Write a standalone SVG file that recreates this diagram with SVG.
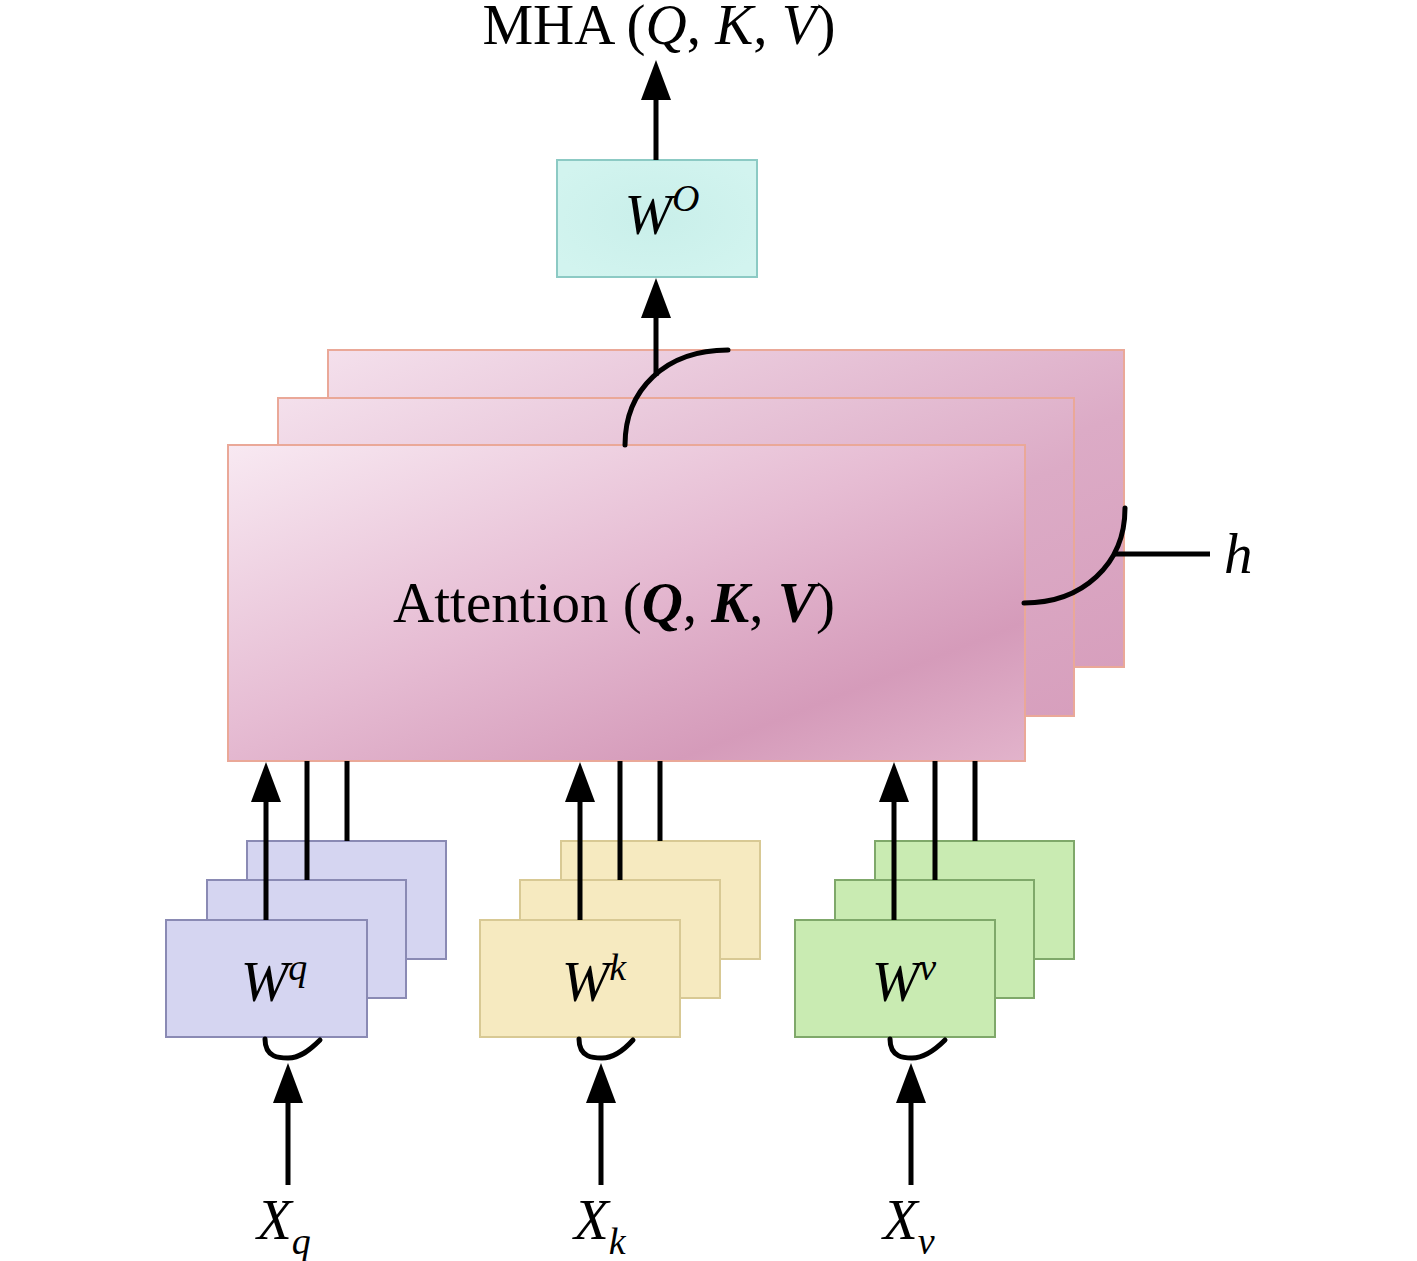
<svg xmlns="http://www.w3.org/2000/svg" width="1417" height="1261" viewBox="0 0 1417 1261">
<style>
text{font-family:"Liberation Serif","Times New Roman",serif;fill:#000}
.t{font-size:57px}
.i{font-style:italic}
.b{font-weight:bold;font-style:italic}
.ln{stroke:#000;stroke-width:5;fill:none}
.arc{stroke:#000;stroke-width:5;fill:none;stroke-linecap:round}
.pink{stroke:#eaa898;stroke-width:2}
.blue{fill:#d5d5f1;stroke:#8a8ab4;stroke-width:2}
.yel{fill:#f6eac0;stroke:#d8c994;stroke-width:2}
.grn{fill:#c9ebb2;stroke:#7fa86a;stroke-width:2}
</style>
<defs>
<marker id="ah" markerUnits="userSpaceOnUse" markerWidth="40" markerHeight="30" refX="0" refY="15" orient="auto" viewBox="0 0 40 30">
<path d="M0,0 L40,15 L0,30 z" fill="#000"/>
</marker>
<linearGradient id="pg" x1="0" y1="0" x2="1" y2="1">
<stop offset="0" stop-color="#f8e9f2"/>
<stop offset="0.45" stop-color="#e6bcd3"/>
<stop offset="0.78" stop-color="#d59bba"/>
<stop offset="1" stop-color="#e2b3cb"/>
</linearGradient>
<linearGradient id="pg2" x1="0" y1="0" x2="1" y2="1">
<stop offset="0" stop-color="#f4e0ec"/>
<stop offset="0.6" stop-color="#dcabc6"/>
<stop offset="1" stop-color="#d79fbd"/>
</linearGradient>
<radialGradient id="cg" cx="0.5" cy="0.5" r="0.6">
<stop offset="0" stop-color="#c9efea"/>
<stop offset="1" stop-color="#d2f4ef"/>
</radialGradient>
</defs>

<g id="title">
<text class="t" x="659" y="44" text-anchor="middle" font-size="58">MHA (<tspan class="i">Q</tspan>, <tspan class="i">K</tspan>, <tspan class="i">V</tspan>)</text>
</g>

<g id="wo">
<rect x="557" y="160" width="200" height="117" fill="url(#cg)" stroke="#8ccac4" stroke-width="2"/>
<text class="t" x="662" y="234" text-anchor="middle"><tspan class="i">W</tspan><tspan class="i" font-size="38" dy="-23">O</tspan></text>
</g>

<g id="attention">
<rect x="328" y="350" width="796" height="317" fill="url(#pg2)" class="pink"/>
<rect x="278" y="398" width="796" height="318" fill="url(#pg2)" class="pink"/>
<rect x="228" y="445" width="797" height="316" fill="url(#pg)" class="pink"/>
<text class="t" x="614" y="622" text-anchor="middle" font-size="58">Attention (<tspan class="b">Q</tspan>, <tspan class="b">K</tspan>, <tspan class="b">V</tspan>)</text>
</g>

<g id="h-label">
<text class="t i" x="1224" y="573">h</text>
</g>

<g id="wq">
<rect x="247" y="841" width="199" height="118" class="blue"/>
<rect x="207" y="880" width="199" height="118" class="blue" stroke="#5a5a8a"/>
<rect x="166" y="920" width="201" height="117" class="blue" stroke="#a9a9d0"/>
<text class="t" x="274" y="1001" text-anchor="middle"><tspan class="i">W</tspan><tspan class="i" font-size="38" dy="-21">q</tspan></text>
</g>

<g id="wk">
<rect x="561" y="841" width="199" height="118" class="yel"/>
<rect x="520" y="880" width="200" height="118" class="yel"/>
<rect x="480" y="920" width="200" height="117" class="yel"/>
<text class="t" x="594" y="1001" text-anchor="middle"><tspan class="i">W</tspan><tspan class="i" font-size="38" dy="-21">k</tspan></text>
</g>

<g id="wv">
<rect x="875" y="841" width="199" height="118" class="grn"/>
<rect x="835" y="880" width="199" height="118" class="grn" stroke="#3d5e28"/>
<rect x="795" y="920" width="200" height="117" class="grn"/>
<text class="t" x="904" y="1001" text-anchor="middle"><tspan class="i">W</tspan><tspan class="i" font-size="38" dy="-21">v</tspan></text>
</g>

<g id="inputs">
<text class="t" x="257" y="1239" font-size="58"><tspan class="i">X</tspan><tspan class="i" font-size="38" dy="15">q</tspan></text>
<text class="t" x="574" y="1239" font-size="58"><tspan class="i">X</tspan><tspan class="i" font-size="38" dy="15">k</tspan></text>
<text class="t" x="883" y="1239" font-size="58"><tspan class="i">X</tspan><tspan class="i" font-size="38" dy="15">v</tspan></text>
</g>

<g id="connectors">
<line class="ln" x1="656" y1="160" x2="656" y2="100" marker-end="url(#ah)"/>
<line class="ln" x1="656" y1="376" x2="656" y2="318" marker-end="url(#ah)"/>
<path class="arc" d="M625,445 C625,390 665,350 728,350"/>
<path class="arc" d="M1125,508 C1125,565 1082,603 1024,603"/>
<line class="ln" x1="1113" y1="554" x2="1210" y2="554"/>
<line class="ln" x1="266" y1="920" x2="266" y2="802" marker-end="url(#ah)"/>
<line class="ln" x1="307" y1="880" x2="307" y2="761"/>
<line class="ln" x1="347" y1="841" x2="347" y2="761"/>
<line class="ln" x1="580" y1="920" x2="580" y2="802" marker-end="url(#ah)"/>
<line class="ln" x1="620" y1="880" x2="620" y2="761"/>
<line class="ln" x1="660" y1="841" x2="660" y2="761"/>
<line class="ln" x1="894" y1="920" x2="894" y2="802" marker-end="url(#ah)"/>
<line class="ln" x1="935" y1="880" x2="935" y2="761"/>
<line class="ln" x1="975" y1="841" x2="975" y2="761"/>
<path class="arc" d="M265,1039 C265,1058 280,1058 288,1058 C300,1058 310,1050 320,1040"/>
<path class="arc" d="M579,1039 C579,1058 594,1058 602,1058 C614,1058 624,1050 633,1040"/>
<path class="arc" d="M890,1039 C890,1058 905,1058 912,1058 C924,1058 935,1050 945,1040"/>
<line class="ln" x1="288" y1="1185" x2="288" y2="1103" marker-end="url(#ah)"/>
<line class="ln" x1="601" y1="1185" x2="601" y2="1103" marker-end="url(#ah)"/>
<line class="ln" x1="911" y1="1185" x2="911" y2="1103" marker-end="url(#ah)"/>
</g>
</svg>
